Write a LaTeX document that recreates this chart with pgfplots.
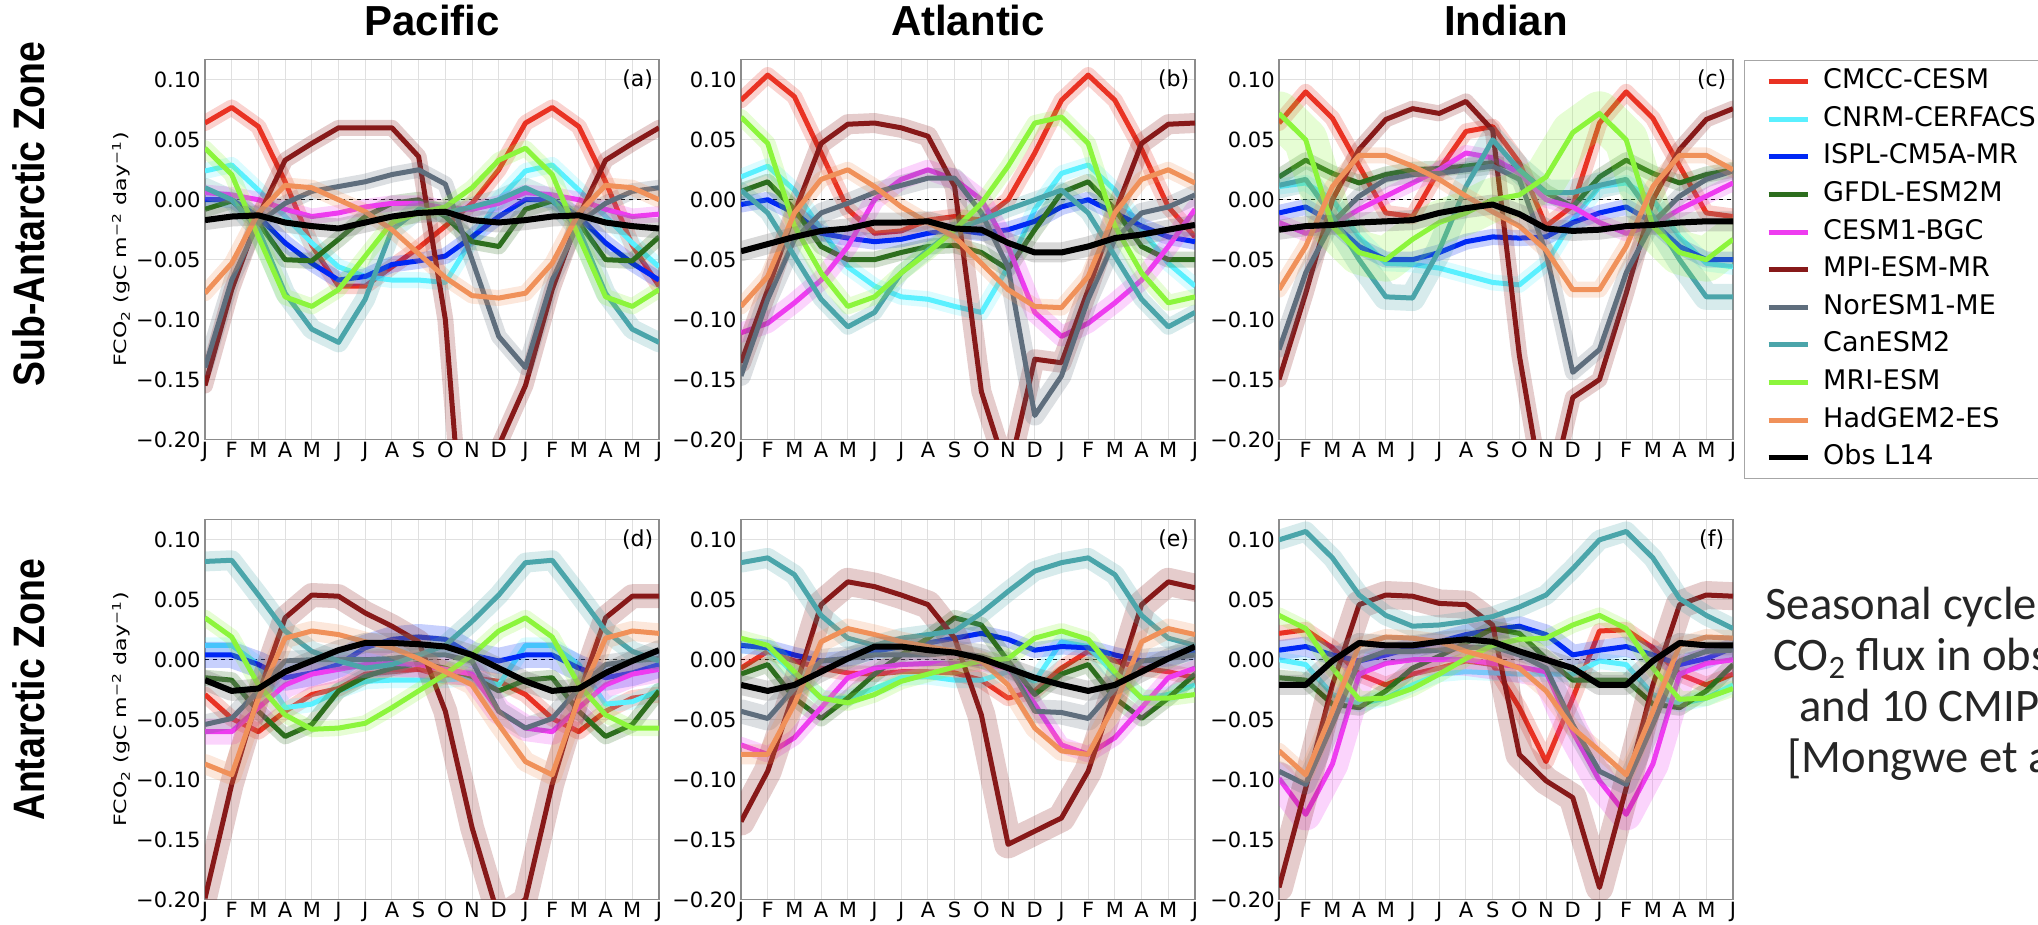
\documentclass[border=0pt]{standalone}
\usepackage{fontspec}
\setmainfont{DejaVu Sans}
\newfontfamily\hfont{Liberation Sans}
\newfontfamily\cfont{Carlito}
\usepackage{graphicx}
\usepackage{pgfplots}
\usepackage{pgfplotstable}
\pgfplotsset{compat=1.18}

\definecolor{cR}{RGB}{233,50,35}
\definecolor{cC}{RGB}{90,240,255}
\definecolor{cB}{RGB}{0,40,245}
\definecolor{cG}{RGB}{45,110,30}
\definecolor{cM}{RGB}{238,60,240}
\definecolor{cMR}{RGB}{135,25,25}
\definecolor{cN}{RGB}{95,110,125}
\definecolor{cT}{RGB}{75,165,170}
\definecolor{cLG}{RGB}{140,245,60}
\definecolor{cO}{RGB}{240,145,90}

% columns: r=CMCC c=CNRM b=ISPL g=GFDL m=CESM1 mr=MPI n=NorESM t=CanESM2 lg=MRI o=HadGEM k=Obs
\pgfplotstableread{
x r c b g m mr n t lg o k
0 0.064 0.024 0.000 -0.008 0.006 -0.155 -0.140 0.010 0.043 -0.078 -0.017
1 0.077 0.029 0.000 -0.001 0.004 -0.075 -0.067 0.000 0.021 -0.053 -0.014
2 0.061 0.008 -0.014 -0.019 0.000 -0.014 -0.019 -0.025 -0.031 -0.011 -0.013
3 0.015 -0.014 -0.036 -0.050 -0.008 0.033 -0.003 -0.078 -0.081 0.012 -0.019
4 -0.038 -0.036 -0.053 -0.051 -0.014 0.047 0.007 -0.108 -0.089 0.010 -0.022
5 -0.072 -0.056 -0.067 -0.033 -0.011 0.060 0.011 -0.119 -0.075 0.000 -0.024
6 -0.072 -0.064 -0.064 -0.014 -0.006 0.060 0.015 -0.083 -0.047 -0.010 -0.019
7 -0.056 -0.067 -0.054 -0.003 -0.003 0.060 0.021 -0.025 -0.019 -0.025 -0.014
8 -0.040 -0.067 -0.051 0.000 -0.003 0.036 0.025 -0.008 -0.011 -0.045 -0.011
9 -0.022 -0.069 -0.047 -0.014 -0.007 -0.100 0.013 -0.011 -0.006 -0.065 -0.010
10 -0.003 -0.033 -0.031 -0.035 -0.008 -0.380 -0.050 -0.006 0.010 -0.080 -0.017
11 0.025 0.000 -0.014 -0.039 -0.003 -0.205 -0.114 0.000 0.033 -0.082 -0.019
12 0.064 0.024 0.000 -0.008 0.006 -0.155 -0.140 0.010 0.043 -0.078 -0.017
13 0.077 0.029 0.000 -0.001 0.004 -0.075 -0.067 0.000 0.021 -0.053 -0.014
14 0.061 0.008 -0.014 -0.019 0.000 -0.014 -0.019 -0.025 -0.031 -0.011 -0.013
15 0.015 -0.014 -0.036 -0.050 -0.008 0.033 -0.003 -0.078 -0.081 0.012 -0.019
16 -0.038 -0.036 -0.053 -0.051 -0.014 0.047 0.007 -0.108 -0.089 0.010 -0.022
17 -0.072 -0.056 -0.067 -0.031 -0.012 0.060 0.010 -0.119 -0.075 0.000 -0.024
}\tabA
\pgfplotstableread{
x r c b g m mr n t lg o k
0 0.083 0.019 -0.004 0.007 -0.111 -0.136 -0.147 0.008 0.069 -0.089 -0.043
1 0.104 0.028 0.000 0.015 -0.103 -0.075 -0.083 -0.011 0.047 -0.064 -0.037
2 0.086 0.008 -0.011 -0.008 -0.086 -0.011 -0.033 -0.047 -0.022 -0.011 -0.031
3 0.039 -0.025 -0.028 -0.039 -0.067 0.047 -0.011 -0.083 -0.061 0.017 -0.026
4 -0.008 -0.056 -0.032 -0.050 -0.039 0.063 -0.003 -0.106 -0.089 0.025 -0.024
5 -0.028 -0.072 -0.035 -0.050 0.000 0.064 0.006 -0.094 -0.081 0.011 -0.019
6 -0.026 -0.081 -0.033 -0.044 0.017 0.060 0.012 -0.061 -0.061 -0.006 -0.019
7 -0.017 -0.083 -0.028 -0.039 0.025 0.053 0.018 -0.042 -0.044 -0.019 -0.018
8 -0.014 -0.089 -0.025 -0.038 0.017 0.011 0.018 -0.025 -0.025 -0.031 -0.024
9 -0.017 -0.094 -0.028 -0.044 0.000 -0.160 -0.011 -0.017 -0.003 -0.053 -0.025
10 0.000 -0.056 -0.025 -0.058 -0.039 -0.230 -0.056 -0.008 0.028 -0.075 -0.036
11 0.039 -0.008 -0.018 -0.025 -0.094 -0.133 -0.180 0.000 0.064 -0.089 -0.044
12 0.083 0.022 -0.006 0.006 -0.114 -0.136 -0.147 0.008 0.069 -0.090 -0.044
13 0.104 0.029 0.000 0.015 -0.103 -0.075 -0.083 -0.011 0.047 -0.064 -0.039
14 0.083 0.008 -0.011 -0.008 -0.086 -0.011 -0.033 -0.047 -0.022 -0.011 -0.032
15 0.042 -0.025 -0.022 -0.039 -0.067 0.047 -0.011 -0.083 -0.061 0.017 -0.029
16 -0.006 -0.053 -0.031 -0.050 -0.039 0.063 -0.006 -0.106 -0.086 0.025 -0.025
17 -0.031 -0.072 -0.035 -0.050 -0.008 0.064 0.004 -0.094 -0.081 0.014 -0.021
}\tabB
\pgfplotstableread{
x r c b g m mr n t lg o k
0 0.064 0.011 -0.011 0.019 -0.019 -0.150 -0.125 0.012 0.072 -0.075 -0.025
1 0.090 0.014 -0.006 0.033 -0.028 -0.078 -0.061 0.017 0.050 -0.039 -0.022
2 0.068 0.000 -0.019 0.022 -0.021 0.000 -0.019 -0.014 -0.022 0.011 -0.021
3 0.028 -0.031 -0.039 0.014 -0.008 0.042 0.003 -0.050 -0.044 0.037 -0.019
4 -0.011 -0.053 -0.050 0.021 0.003 0.067 0.017 -0.081 -0.050 0.037 -0.018
5 -0.014 -0.054 -0.050 0.025 0.014 0.076 0.021 -0.082 -0.033 0.028 -0.017
6 0.025 -0.057 -0.044 0.026 0.025 0.072 0.022 -0.042 -0.019 0.017 -0.011
7 0.057 -0.063 -0.035 0.028 0.039 0.082 0.025 0.011 -0.011 0.003 -0.007
8 0.061 -0.069 -0.031 0.031 0.035 0.058 0.028 0.050 0.000 -0.010 -0.004
9 0.031 -0.071 -0.032 0.025 0.022 -0.130 0.017 0.025 0.004 -0.022 -0.012
10 -0.022 -0.053 -0.031 0.006 0.000 -0.260 -0.044 0.006 0.019 -0.042 -0.024
11 -0.005 -0.017 -0.019 -0.006 -0.006 -0.165 -0.144 0.006 0.056 -0.075 -0.026
12 0.064 0.011 -0.011 0.019 -0.019 -0.150 -0.125 0.012 0.072 -0.075 -0.025
13 0.090 0.014 -0.006 0.033 -0.028 -0.078 -0.061 0.017 0.050 -0.039 -0.022
14 0.068 0.000 -0.019 0.022 -0.021 0.000 -0.019 -0.014 -0.022 0.011 -0.021
15 0.028 -0.031 -0.039 0.014 -0.008 0.042 0.003 -0.050 -0.044 0.037 -0.019
16 -0.011 -0.053 -0.050 0.021 0.003 0.067 0.017 -0.081 -0.050 0.037 -0.018
17 -0.014 -0.056 -0.050 0.025 0.014 0.076 0.024 -0.081 -0.033 0.025 -0.018
}\tabC
\pgfplotstableread{
x r c b g m mr n t lg o k
0 -0.029 0.012 0.004 -0.015 -0.060 -0.199 -0.054 0.082 0.035 -0.087 -0.017
1 -0.049 0.012 0.004 -0.017 -0.060 -0.104 -0.049 0.083 0.019 -0.096 -0.026
2 -0.060 -0.004 -0.004 -0.043 -0.040 -0.029 -0.026 0.054 -0.021 -0.032 -0.024
3 -0.043 -0.040 -0.015 -0.064 -0.021 0.035 -0.001 0.024 -0.046 0.018 -0.010
4 -0.029 -0.037 -0.011 -0.054 -0.012 0.054 0.000 0.007 -0.058 0.024 -0.001
5 -0.024 -0.026 -0.004 -0.026 -0.008 0.053 0.000 -0.001 -0.057 0.021 0.008
6 -0.012 -0.018 0.010 -0.014 -0.004 0.039 0.000 -0.007 -0.053 0.015 0.014
7 -0.010 -0.017 0.017 -0.007 -0.003 0.028 0.001 -0.004 -0.040 0.010 0.014
8 -0.008 -0.017 0.019 -0.003 -0.004 0.015 0.004 0.004 -0.026 0.001 0.013
9 -0.014 -0.017 0.017 -0.007 -0.008 -0.043 0.004 0.012 -0.012 -0.010 0.011
10 -0.015 -0.015 0.004 -0.014 -0.012 -0.140 -0.001 0.032 0.004 -0.021 0.004
11 -0.018 -0.021 -0.001 -0.026 -0.043 -0.215 -0.043 0.054 0.024 -0.054 -0.007
12 -0.029 0.012 0.004 -0.017 -0.057 -0.200 -0.057 0.081 0.035 -0.085 -0.018
13 -0.049 0.012 0.004 -0.015 -0.060 -0.104 -0.049 0.083 0.019 -0.096 -0.026
14 -0.060 -0.004 -0.007 -0.043 -0.040 -0.029 -0.024 0.054 -0.021 -0.032 -0.024
15 -0.043 -0.037 -0.015 -0.064 -0.021 0.035 -0.004 0.024 -0.046 0.018 -0.011
16 -0.032 -0.035 -0.011 -0.054 -0.012 0.053 -0.001 0.007 -0.057 0.024 -0.001
17 -0.029 -0.026 -0.004 -0.026 -0.008 0.053 0.001 -0.001 -0.057 0.022 0.008
}\tabD
\pgfplotstableread{
x r c b g m mr n t lg o k
0 -0.007 0.012 0.012 -0.012 -0.071 -0.135 -0.043 0.081 0.018 -0.079 -0.021
1 0.007 0.010 0.010 -0.004 -0.079 -0.093 -0.049 0.085 0.012 -0.079 -0.026
2 -0.001 -0.012 0.004 -0.032 -0.065 -0.026 -0.024 0.071 -0.010 -0.037 -0.021
3 -0.007 -0.032 -0.001 -0.049 -0.040 0.046 -0.001 0.037 -0.032 0.015 -0.010
4 -0.011 -0.032 0.001 -0.032 -0.015 0.065 0.001 0.018 -0.036 0.026 0.001
5 -0.012 -0.024 0.007 -0.012 -0.007 0.061 0.004 0.012 -0.029 0.021 0.011
6 -0.010 -0.015 0.011 0.004 -0.004 0.054 0.004 0.018 -0.018 0.015 0.011
7 -0.010 -0.014 0.014 0.018 -0.003 0.046 0.004 0.021 -0.012 0.011 0.008
8 -0.011 -0.017 0.018 0.035 -0.003 0.018 0.006 0.024 -0.006 0.007 0.006
9 -0.017 -0.017 0.022 0.029 -0.003 -0.046 0.003 0.039 -0.001 -0.001 0.001
10 -0.032 -0.010 0.017 -0.001 -0.007 -0.154 -0.004 0.057 0.001 -0.021 -0.007
11 -0.026 -0.018 0.008 -0.029 -0.037 -0.143 -0.043 0.074 0.018 -0.057 -0.015
12 -0.007 0.015 0.011 -0.012 -0.071 -0.132 -0.044 0.081 0.024 -0.076 -0.021
13 0.007 0.011 0.010 -0.004 -0.079 -0.093 -0.049 0.085 0.017 -0.079 -0.026
14 -0.001 -0.012 0.004 -0.032 -0.065 -0.026 -0.024 0.071 -0.010 -0.037 -0.021
15 -0.007 -0.032 -0.001 -0.049 -0.040 0.046 -0.001 0.037 -0.032 0.015 -0.010
16 -0.010 -0.029 0.001 -0.032 -0.015 0.065 0.001 0.018 -0.032 0.026 0.001
17 -0.015 -0.021 0.007 -0.012 -0.007 0.060 0.004 0.012 -0.029 0.021 0.011
}\tabE
\pgfplotstableread{
x r c b g m mr n t lg o k
0 0.022 0.000 0.008 -0.015 -0.099 -0.190 -0.093 0.100 0.037 -0.076 -0.021
1 0.025 -0.004 0.011 -0.017 -0.129 -0.107 -0.104 0.107 0.026 -0.096 -0.021
2 0.010 -0.029 0.004 -0.037 -0.087 -0.021 -0.054 0.085 -0.007 -0.043 -0.001
3 -0.012 -0.037 -0.001 -0.040 -0.012 0.046 -0.001 0.054 -0.033 0.012 0.014
4 -0.021 -0.032 0.004 -0.026 -0.003 0.054 0.007 0.037 -0.032 0.019 0.012
5 -0.012 -0.021 0.010 -0.007 0.000 0.053 0.007 0.028 -0.024 0.018 0.012
6 -0.007 -0.012 0.015 0.003 0.000 0.047 0.008 0.029 -0.012 0.015 0.015
7 -0.001 -0.010 0.021 0.014 0.000 0.046 0.010 0.032 0.001 0.007 0.017
8 -0.004 -0.011 0.025 0.026 -0.003 0.029 0.011 0.036 0.012 0.001 0.015
9 -0.040 -0.012 0.028 0.022 -0.006 -0.079 0.004 0.044 0.017 -0.007 0.007
10 -0.085 -0.012 0.021 0.001 -0.010 -0.101 -0.007 0.054 0.018 -0.026 0.000
11 -0.032 -0.012 0.004 -0.017 -0.060 -0.115 -0.054 0.076 0.029 -0.057 -0.007
12 0.024 -0.001 0.008 -0.017 -0.101 -0.190 -0.093 0.100 0.037 -0.076 -0.021
13 0.025 -0.004 0.011 -0.017 -0.129 -0.107 -0.104 0.107 0.026 -0.096 -0.021
14 0.010 -0.029 0.004 -0.037 -0.087 -0.021 -0.054 0.085 -0.007 -0.043 -0.001
15 -0.012 -0.037 -0.004 -0.040 -0.012 0.046 -0.001 0.051 -0.033 0.012 0.014
16 -0.021 -0.032 0.001 -0.026 -0.003 0.054 0.007 0.037 -0.032 0.019 0.012
17 -0.012 -0.021 0.010 -0.004 0.000 0.053 0.008 0.026 -0.024 0.018 0.012
}\tabF

% one model series: band (translucent thick stroke) + line
\newcommand\ser[4][8pt]{%
  \addplot[#4, line width=#1, opacity=0.22, line join=round, line cap=round, forget plot] table[x=x,y=#3]{#2};
  \addplot[#4, line width=2.5pt, line join=round] table[x=x,y=#3]{#2};}
\newcommand\obs[1]{%
  \addplot[gray, line width=10pt, opacity=0.3, line join=round, line cap=round, forget plot] table[x=x,y=k]{#1};
  \addplot[black, line width=3pt, line join=round] table[x=x,y=k]{#1};}

\newcommand\tickfont{\fontsize{10.5}{12}\selectfont}
\pgfplotsset{
  panel/.style={
    scale only axis, width=227pt, height=190pt, anchor=south west,
    xmin=0, xmax=17, ymin=-0.2, ymax=0.117,
    xtick={0,...,17},
    xticklabels={J,F,M,A,M,J,J,A,S,O,N,D,J,F,M,A,M,J},
    ytick={-0.2,-0.15,-0.1,-0.05,0,0.05,0.1},
    yticklabels={−0.20,−0.15,−0.10,−0.05,0.00,0.05,0.10},
    grid=major,
    major grid style={line width=0.5pt, color=black!12},
    axis line style={line width=0.7pt, color=black!45},
    major tick length=0pt,
    tick label style={font=\tickfont},
    xticklabel style={inner sep=1pt},
    yticklabel style={inner sep=2pt},
    title style={at={(axis description cs:0.5,1)}, anchor=base, yshift=6pt,
      font=\hfont\bfseries\fontsize{21}{24}\selectfont},
    ylabel style={at={(axis description cs:-0.185,0.5)}, anchor=center, rotate=0,
      font=\fontsize{8.5}{10}\selectfont},
  },
  zline/.style={black, line width=0.7pt, dash pattern=on 2pt off 2pt, forget plot},
  legend image code/.code={\path (0pt,0pt); \draw[#1, line width=2.5pt, opacity=1] (7.5pt,0pt) -- (27pt,0pt);},
}
\newcommand\ylab{\scalebox{1.3}[1]{FCO\textsubscript{2} (gC m\textsuperscript{−2} day\textsuperscript{−1})}}
\newcommand\plab[1]{\node[font=\fontsize{11}{13}\selectfont] at (rel axis cs:0.953,0.946) {#1};}

\begin{document}
\begin{tikzpicture}
\useasboundingbox (0pt,0pt) rectangle (1019pt,462.5pt);
\clip (0pt,0pt) rectangle (1019pt,462.5pt);

% ---------- (a) Pacific, Sub-Antarctic ----------
\begin{axis}[panel, at={(102.5pt,242.75pt)}, title={Pacific}, ylabel={\ylab}]
\addplot[zline] coordinates {(0,0) (17,0)};
\ser{\tabA}{r}{cR}\ser{\tabA}{c}{cC}\ser{\tabA}{b}{cB}\ser{\tabA}{g}{cG}
\ser{\tabA}{m}{cM}\ser{\tabA}{mr}{cMR}\ser{\tabA}{n}{cN}\ser[10pt]{\tabA}{t}{cT}
\ser{\tabA}{lg}{cLG}\ser{\tabA}{o}{cO}\obs{\tabA}
\plab{(a)}
\end{axis}

% ---------- (b) Atlantic, Sub-Antarctic ----------
\begin{axis}[panel, at={(370.5pt,242.75pt)}, title={Atlantic}]
\addplot[zline] coordinates {(0,0) (17,0)};
\ser{\tabB}{r}{cR}\ser{\tabB}{c}{cC}\ser{\tabB}{b}{cB}\ser{\tabB}{g}{cG}
\ser[10pt]{\tabB}{m}{cM}\ser[10pt]{\tabB}{mr}{cMR}\ser[10pt]{\tabB}{n}{cN}\ser{\tabB}{t}{cT}
\ser{\tabB}{lg}{cLG}\ser{\tabB}{o}{cO}\obs{\tabB}
\plab{(b)}
\end{axis}

% ---------- (c) Indian, Sub-Antarctic (with legend) ----------
\begin{axis}[panel, at={(639.5pt,242.75pt)}, title={Indian},
  legend style={at={(axis description cs:1.0242,0.9987)}, anchor=north west,
    draw=black!35, line width=0.7pt, fill=white,
    font=\fontsize{13.5}{15}\selectfont,
    inner xsep=3pt, inner ysep=4pt, row sep=5.8pt, column sep=6.5pt,
    nodes={inner sep=0pt, text height=10pt, text depth=3pt},
    cells={anchor=west}},
  legend entries={CMCC-CESM,CNRM-CERFACS,ISPL-CM5A-MR,GFDL-ESM2M,CESM1-BGC,MPI-ESM-MR,NorESM1-ME,CanESM2,MRI-ESM,HadGEM2-ES,Obs L14}]
\addplot[zline] coordinates {(0,0) (17,0)};
\ser{\tabC}{r}{cR}\ser{\tabC}{c}{cC}\ser{\tabC}{b}{cB}\ser{\tabC}{g}{cG}
\ser{\tabC}{m}{cM}\ser{\tabC}{mr}{cMR}\ser{\tabC}{n}{cN}\ser[13pt]{\tabC}{t}{cT}
\ser[22pt]{\tabC}{lg}{cLG}\ser{\tabC}{o}{cO}\obs{\tabC}
\plab{(c)}
\end{axis}

% ---------- (d) Pacific, Antarctic ----------
\begin{axis}[panel, at={(102.5pt,12.75pt)}, ylabel={\ylab}]
\addplot[zline] coordinates {(0,0) (17,0)};
\ser{\tabD}{r}{cR}\ser{\tabD}{c}{cC}\ser[13pt]{\tabD}{b}{cB}\ser{\tabD}{g}{cG}
\ser[13pt]{\tabD}{m}{cM}\ser[12pt]{\tabD}{mr}{cMR}\ser[10pt]{\tabD}{n}{cN}\ser[10pt]{\tabD}{t}{cT}
\ser{\tabD}{lg}{cLG}\ser[10pt]{\tabD}{o}{cO}\obs{\tabD}
\plab{(d)}
\end{axis}

% ---------- (e) Atlantic, Antarctic ----------
\begin{axis}[panel, at={(370.5pt,12.75pt)}]
\addplot[zline] coordinates {(0,0) (17,0)};
\ser{\tabE}{r}{cR}\ser{\tabE}{c}{cC}\ser{\tabE}{b}{cB}\ser{\tabE}{g}{cG}
\ser{\tabE}{m}{cM}\ser[14pt]{\tabE}{mr}{cMR}\ser[12pt]{\tabE}{n}{cN}\ser[10pt]{\tabE}{t}{cT}
\ser{\tabE}{lg}{cLG}\ser[10pt]{\tabE}{o}{cO}\obs{\tabE}
\plab{(e)}
\end{axis}

% ---------- (f) Indian, Antarctic ----------
\begin{axis}[panel, at={(639.5pt,12.75pt)}]
\addplot[zline] coordinates {(0,0) (17,0)};
\ser{\tabF}{r}{cR}\ser{\tabF}{c}{cC}\ser[10pt]{\tabF}{b}{cB}\ser{\tabF}{g}{cG}
\ser[16pt]{\tabF}{m}{cM}\ser[14pt]{\tabF}{mr}{cMR}\ser[10pt]{\tabF}{n}{cN}\ser[10pt]{\tabF}{t}{cT}
\ser{\tabF}{lg}{cLG}\ser{\tabF}{o}{cO}\obs{\tabF}
\plab{(f)}
\end{axis}

% row labels
\node[rotate=90, font=\hfont\bfseries\fontsize{22}{24}\selectfont] at (14.5pt,355.5pt) {\scalebox{0.85}[1]{Sub-Antarctic Zone}};
\node[rotate=90, font=\hfont\bfseries\fontsize{22}{24}\selectfont] at (14.5pt,117.5pt) {\scalebox{0.85}[1]{Antarctic Zone}};

% caption text (runs off the right edge, as in the original)
\begin{scope}[every node/.style={anchor=base west, inner sep=0pt, text=black!85, font=\cfont\fontsize{23.3}{28}\selectfont}]
\node at (882.5pt,152.5pt) {Seasonal cycle of};
\node at (886.5pt,127pt) {CO\textsubscript{2} flux in observations};
\node at (899.5pt,101.5pt) {and 10 CMIP5 models};
\node at (893.5pt,76pt) {[Mongwe et al. 2018]};
\end{scope}
\end{tikzpicture}
\end{document}
